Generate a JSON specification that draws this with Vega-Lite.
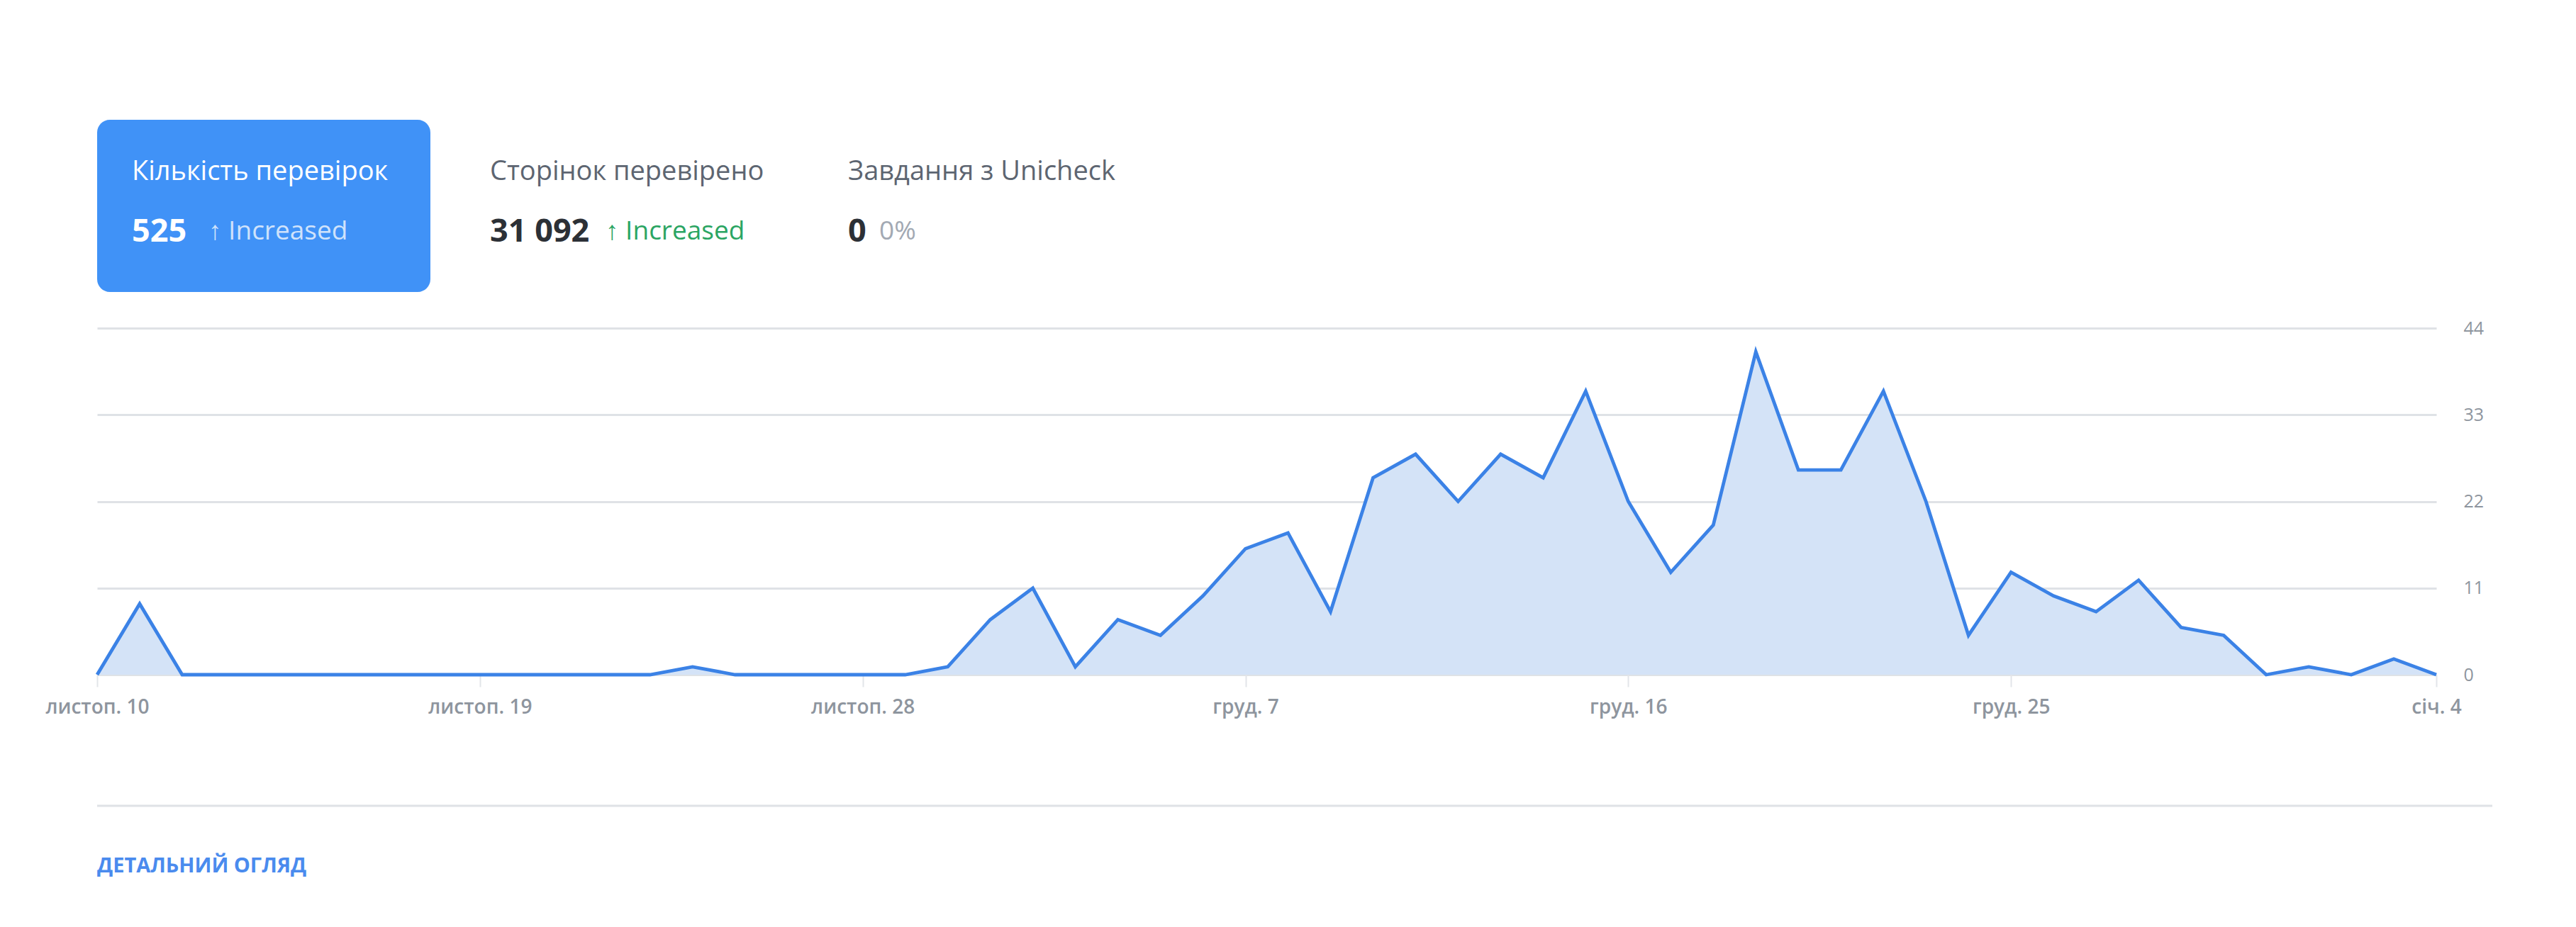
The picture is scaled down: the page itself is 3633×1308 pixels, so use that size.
{
  "$schema": "https://vega.github.io/schema/vega-lite/v6.json",
  "background": "#ffffff",
  "padding": {"left": 63, "top": 169, "right": 20, "bottom": 20},
  "bounds": "flush",
  "spacing": 51,
  "config": {
    "view": {"stroke": null},
    "font": "Open Sans",
    "text": {"font": "Open Sans"},
    "axis": {"labelFont": "Open Sans"}
  },
  "vconcat": [
    {
      "width": 1480,
      "height": 243,
      "data": {"values": [
        {"tile": "Кількість перевірок", "value": "525", "delta": "↑ Increased", "active": true},
        {"tile": "Сторінок перевірено", "value": "31 092", "delta": "↑ Increased", "active": false},
        {"tile": "Завдання з Unicheck", "value": "0", "delta": "0%", "active": false}
      ]},
      "encoding": {
        "x": {"field": "tile", "type": "nominal", "sort": null, "scale": {"type": "band", "paddingInner": 0.0693, "paddingOuter": 0}, "axis": null}
      },
      "layer": [
        {
          "transform": [{"filter": "datum.active"}],
          "mark": {"type": "rect", "color": "#4092f7", "cornerRadius": 18},
          "encoding": {
            "y": {"datum": 0, "type": "quantitative", "scale": {"domain": [0, 1]}, "axis": null},
            "y2": {"datum": 1}
          }
        },
        {
          "mark": {"type": "text", "align": "left", "baseline": "middle", "dx": 49, "fontSize": 38},
          "encoding": {
            "x": {"field": "tile", "type": "nominal", "sort": null, "bandPosition": 0},
            "y": {"datum": 0.695, "type": "quantitative"},
            "text": {"field": "tile"},
            "color": {"condition": {"test": "datum.active", "value": "#ffffff"}, "value": "#5d6571"}
          }
        },
        {
          "mark": {"type": "text", "align": "left", "baseline": "middle", "dx": 49, "fontSize": 45, "fontWeight": "bold"},
          "encoding": {
            "x": {"field": "tile", "type": "nominal", "sort": null, "bandPosition": 0},
            "y": {"datum": 0.35, "type": "quantitative"},
            "text": {"field": "value"},
            "color": {"condition": {"test": "datum.active", "value": "#ffffff"}, "value": "#2c3036"}
          }
        },
        {
          "transform": [{"filter": "datum.tile == 'Кількість перевірок'"}],
          "mark": {"type": "text", "align": "left", "baseline": "middle", "dx": 157, "fontSize": 37, "color": "#cfe2fb"},
          "encoding": {
            "x": {"field": "tile", "type": "nominal", "sort": null, "bandPosition": 0},
            "y": {"datum": 0.35, "type": "quantitative"},
            "text": {"field": "delta"}
          }
        },
        {
          "transform": [{"filter": "datum.tile == 'Сторінок перевірено'"}],
          "mark": {"type": "text", "align": "left", "baseline": "middle", "dx": 212, "fontSize": 37, "color": "#2ba563"},
          "encoding": {
            "x": {"field": "tile", "type": "nominal", "sort": null, "bandPosition": 0},
            "y": {"datum": 0.35, "type": "quantitative"},
            "text": {"field": "delta"}
          }
        },
        {
          "transform": [{"filter": "datum.tile == 'Завдання з Unicheck'"}],
          "mark": {"type": "text", "align": "left", "baseline": "middle", "dx": 93, "fontSize": 37, "color": "#a2a9b3"},
          "encoding": {
            "x": {"field": "tile", "type": "nominal", "sort": null, "bandPosition": 0},
            "y": {"datum": 0.35, "type": "quantitative"},
            "text": {"field": "delta"}
          }
        }
      ]
    },
    {
      "width": 3299,
      "height": 489,
      "data": {"values": [
        {"date": "2018-11-10", "checks": 0},
        {"date": "2018-11-11", "checks": 9},
        {"date": "2018-11-12", "checks": 0},
        {"date": "2018-11-13", "checks": 0},
        {"date": "2018-11-14", "checks": 0},
        {"date": "2018-11-15", "checks": 0},
        {"date": "2018-11-16", "checks": 0},
        {"date": "2018-11-17", "checks": 0},
        {"date": "2018-11-18", "checks": 0},
        {"date": "2018-11-19", "checks": 0},
        {"date": "2018-11-20", "checks": 0},
        {"date": "2018-11-21", "checks": 0},
        {"date": "2018-11-22", "checks": 0},
        {"date": "2018-11-23", "checks": 0},
        {"date": "2018-11-24", "checks": 1},
        {"date": "2018-11-25", "checks": 0},
        {"date": "2018-11-26", "checks": 0},
        {"date": "2018-11-27", "checks": 0},
        {"date": "2018-11-28", "checks": 0},
        {"date": "2018-11-29", "checks": 0},
        {"date": "2018-11-30", "checks": 1},
        {"date": "2018-12-01", "checks": 7},
        {"date": "2018-12-02", "checks": 11},
        {"date": "2018-12-03", "checks": 1},
        {"date": "2018-12-04", "checks": 7},
        {"date": "2018-12-05", "checks": 5},
        {"date": "2018-12-06", "checks": 10},
        {"date": "2018-12-07", "checks": 16},
        {"date": "2018-12-08", "checks": 18},
        {"date": "2018-12-09", "checks": 8},
        {"date": "2018-12-10", "checks": 25},
        {"date": "2018-12-11", "checks": 28},
        {"date": "2018-12-12", "checks": 22},
        {"date": "2018-12-13", "checks": 28},
        {"date": "2018-12-14", "checks": 25},
        {"date": "2018-12-15", "checks": 36},
        {"date": "2018-12-16", "checks": 22},
        {"date": "2018-12-17", "checks": 13},
        {"date": "2018-12-18", "checks": 19},
        {"date": "2018-12-19", "checks": 41},
        {"date": "2018-12-20", "checks": 26},
        {"date": "2018-12-21", "checks": 26},
        {"date": "2018-12-22", "checks": 36},
        {"date": "2018-12-23", "checks": 22},
        {"date": "2018-12-24", "checks": 5},
        {"date": "2018-12-25", "checks": 13},
        {"date": "2018-12-26", "checks": 10},
        {"date": "2018-12-27", "checks": 8},
        {"date": "2018-12-28", "checks": 12},
        {"date": "2018-12-29", "checks": 6},
        {"date": "2018-12-30", "checks": 5},
        {"date": "2018-12-31", "checks": 0},
        {"date": "2019-01-01", "checks": 1},
        {"date": "2019-01-02", "checks": 0},
        {"date": "2019-01-03", "checks": 2},
        {"date": "2019-01-04", "checks": 0}
      ]},
      "encoding": {
        "x": {
          "field": "date",
          "type": "temporal",
          "scale": {
            "type": "utc",
            "domain": [
              {"year": 2018, "month": 11, "date": 10, "utc": true},
              {"year": 2019, "month": 1, "date": 4, "utc": true}
            ],
            "nice": false
          },
          "axis": {
            "title": null,
            "values": [
              {"year": 2018, "month": 11, "date": 10, "utc": true},
              {"year": 2018, "month": 11, "date": 19, "utc": true},
              {"year": 2018, "month": 11, "date": 28, "utc": true},
              {"year": 2018, "month": 12, "date": 7, "utc": true},
              {"year": 2018, "month": 12, "date": 16, "utc": true},
              {"year": 2018, "month": 12, "date": 25, "utc": true},
              {"year": 2019, "month": 1, "date": 4, "utc": true}
            ],
            "labelExpr": "['січ.','лют.','бер.','квіт.','трав.','черв.','лип.','серп.','вер.','жовт.','листоп.','груд.'][utcmonth(datum.value)] + ' ' + utcdate(datum.value)",
            "grid": false,
            "domain": false,
            "ticks": true,
            "tickColor": "#e2e5e9",
            "tickSize": 17,
            "tickWidth": 2,
            "labelPadding": 15,
            "labelFontSize": 28,
            "labelFontWeight": 600,
            "labelColor": "#8e959e",
            "labelFlush": false,
            "labelOverlap": false
          }
        },
        "y": {
          "field": "checks",
          "type": "quantitative",
          "scale": {"domain": [0, 44], "nice": false},
          "axis": {
            "title": null,
            "orient": "right",
            "values": [0, 11, 22, 33, 44],
            "grid": true,
            "gridColor": "#dfe2e6",
            "gridWidth": 3,
            "domain": false,
            "ticks": false,
            "labelPadding": 38,
            "labelFontSize": 25,
            "labelColor": "#8e959e"
          }
        }
      },
      "layer": [
        {"mark": {"type": "area", "color": "#d4e3f7", "opacity": 1}},
        {"mark": {"type": "line", "color": "#3b82e6", "strokeWidth": 4.8, "strokeJoin": "miter"}}
      ]
    },
    {
      "width": 3378,
      "height": 219,
      "data": {"values": [{"link": "ДЕТАЛЬНИЙ ОГЛЯД"}]},
      "encoding": {
        "x": {"datum": 0, "type": "quantitative", "scale": {"domain": [0, 1]}, "axis": null}
      },
      "layer": [
        {
          "mark": {"type": "rule", "color": "#dfe2e6", "strokeWidth": 3},
          "encoding": {
            "x2": {"datum": 1},
            "y": {"datum": 0.388, "type": "quantitative", "scale": {"domain": [0, 1]}, "axis": null}
          }
        },
        {
          "mark": {"type": "text", "align": "left", "baseline": "middle", "fontSize": 29, "fontWeight": "bold", "color": "#4a8bee"},
          "encoding": {
            "y": {"datum": 0, "type": "quantitative"},
            "text": {"field": "link"}
          }
        }
      ]
    }
  ]
}
